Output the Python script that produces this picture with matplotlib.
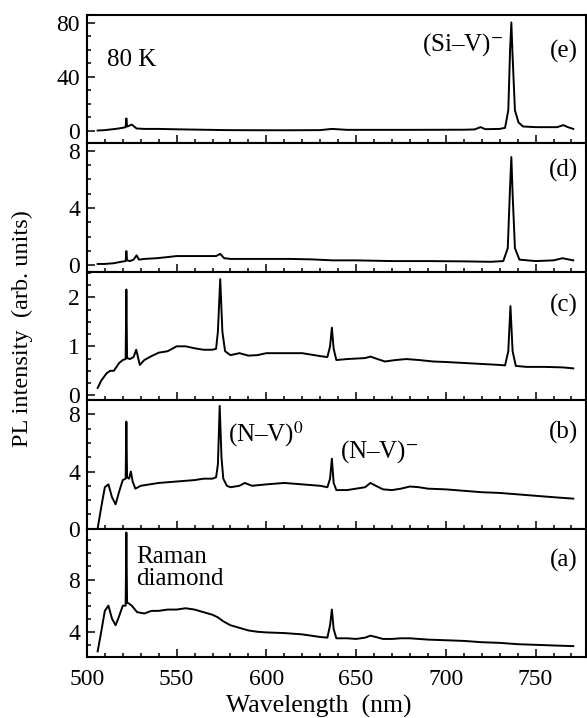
import matplotlib
matplotlib.use("Agg")
import matplotlib.pyplot as plt
from matplotlib.ticker import MultipleLocator, FixedLocator

plt.rcParams["font.family"] = ["Liberation Serif", "DejaVu Serif"]
plt.rcParams["mathtext.fontset"] = "stix"

# panel (a)
wl_a = [506, 508, 510, 512, 514, 516, 518, 520, 521.6, 522, 522.4, 523, 525, 528, 532, 536, 540, 545,
        550, 555, 560, 565, 570, 573, 574, 576, 580, 585, 590, 595, 600, 610, 620, 630, 634, 635.5,
        636.5, 637.5, 639, 645, 650, 655, 658, 661, 665, 670, 675, 680, 690, 700, 710, 720, 730, 740,
        750, 760, 771]
pl_a = [2.5, 4.0, 5.6, 6.0, 5.0, 4.5, 5.2, 6.0, 6.0, 11.6, 6.2, 6.2, 6.0, 5.5, 5.4, 5.6, 5.6, 5.7,
        5.7, 5.8, 5.7, 5.5, 5.3, 5.1, 5.0, 4.8, 4.5, 4.3, 4.1, 4.0, 3.95, 3.9, 3.8, 3.6, 3.55, 4.5,
        5.7, 4.2, 3.5, 3.5, 3.45, 3.55, 3.7, 3.6, 3.45, 3.45, 3.5, 3.5, 3.4, 3.35, 3.3, 3.2, 3.15, 3.05,
        3.0, 2.95, 2.9]

# panel (b)
wl_b = [506, 508, 510, 512, 514, 516, 518, 520, 521.6, 522, 522.4, 523.5, 524.5, 525.5, 527, 530, 535,
        540, 550, 560, 565, 570, 572, 573, 574, 575, 576, 578, 580, 585, 588, 592, 600, 610, 620, 630,
        634, 635.5, 636.5, 637.5, 639, 645, 650, 655, 658, 661, 665, 670, 675, 680, 685, 690, 700, 710,
        720, 730, 740, 750, 760, 771]
pl_b = [0.0, 1.5, 2.9, 3.1, 2.2, 1.7, 2.6, 3.4, 3.5, 7.5, 3.6, 3.5, 4.0, 3.3, 2.8, 3.0, 3.1,
        3.2, 3.3, 3.4, 3.5, 3.5, 3.6, 4.5, 8.6, 5.0, 3.5, 3.0, 2.9, 3.0, 3.2, 3.0, 3.1, 3.2, 3.1, 3.0,
        2.9, 3.5, 4.9, 3.2, 2.7, 2.7, 2.8, 2.9, 3.2, 3.0, 2.75, 2.7, 2.8, 2.95, 2.9, 2.8, 2.75, 2.65,
        2.55, 2.5, 2.4, 2.3, 2.2, 2.1]

# panel (c)
wl_c = [506, 508, 511, 513, 515, 518, 520, 521.6, 522, 522.4, 524, 526, 527.5, 529.5, 532, 536, 540,
        545, 550, 555, 560, 565, 570, 572, 573, 574.3, 575.5, 577, 580, 585, 590, 595, 600, 610, 620,
        630, 634, 635.5, 636.5, 637.5, 639, 645, 650, 655, 658, 662, 666, 672, 678, 685, 693, 700, 710,
        720, 730, 733, 734.8, 736, 737.2, 739, 745, 755, 765, 771]
pl_c = [0.15, 0.3, 0.45, 0.5, 0.5, 0.66, 0.72, 0.74, 2.16, 0.76, 0.74, 0.78, 0.93, 0.62, 0.72, 0.8, 0.87,
        0.9, 1.0, 1.0, 0.96, 0.93, 0.93, 0.95, 1.3, 2.37, 1.3, 0.9, 0.82, 0.86, 0.81, 0.82, 0.86, 0.86, 0.86,
        0.8, 0.78, 1.0, 1.38, 0.95, 0.72, 0.74, 0.75, 0.76, 0.79, 0.74, 0.69, 0.72, 0.74, 0.72, 0.69, 0.68, 0.66,
        0.64, 0.62, 0.61, 0.9, 1.82, 0.9, 0.6, 0.58, 0.58, 0.57, 0.55]

# panel (d)
wl_d = [506, 510, 515, 519, 521.6, 522, 522.4, 524, 526, 527.7, 529, 532, 539, 545, 550, 560, 567, 572,
        574.3, 576.5, 580, 590, 600, 613, 625, 637, 650, 670, 690, 710, 725, 732, 734.5, 735.8, 736.5,
        737.2, 738.5, 741, 750, 760, 765, 771]
pl_d = [0.1, 0.1, 0.15, 0.25, 0.3, 1.0, 0.35, 0.3, 0.4, 0.7, 0.4, 0.45, 0.5, 0.58, 0.65, 0.65, 0.65, 0.65,
        0.8, 0.5, 0.45, 0.45, 0.45, 0.45, 0.42, 0.35, 0.35, 0.3, 0.3, 0.28, 0.25, 0.3, 1.2, 5.5, 7.55,
        5.0, 1.2, 0.4, 0.3, 0.35, 0.5, 0.35]

# panel (e)
wl_e = [506, 510, 516, 520, 521.6, 522, 522.4, 523.5, 525, 527.7, 532, 540, 550, 578, 600, 613, 630,
        636.5, 645, 680, 710, 716, 719.3, 722, 730, 733, 734.8, 735.8, 736.5, 737.2, 738.5, 740.5, 743,
        750, 762, 765.5, 768, 771]
pl_e = [0.0, 0.3, 1.2, 2.0, 2.5, 9.0, 3.0, 3.5, 4.4, 1.5, 1.2, 1.2, 0.9, 0.3, 0.2, 0.2, 0.3,
        1.2, 0.5, 0.5, 0.6, 0.8, 2.5, 1.0, 1.2, 2.0, 15, 60, 80.2, 55, 15, 6, 3,
        2.5, 2.5, 4.0, 2.5, 1.2]

panels = [
    ("(e)", wl_e, pl_e, (-9.6, 85.7), [0, 40, 80], 10, 59),
    ("(d)", wl_d, pl_d, (-0.45, 8.5), [0, 4, 8], 1, 6.6),
    ("(c)", wl_c, pl_c, (-0.1, 2.52), [0, 1, 2], 0.25, 1.83),
    ("(b)", wl_b, pl_b, (0, 9.0), [0, 4, 8], 1, 6.76),
    ("(a)", wl_a, pl_a, (2.07, 11.9), [4, 8], 1, 9.43),
]

fig, axes = plt.subplots(5, 1, figsize=(5.87, 7.18), dpi=100, sharex=True)
fig.subplots_adjust(left=0.148, right=0.998, top=0.979, bottom=0.085, hspace=0)

for ax, (label, wl, pl, ylim, yticks, yminor, label_y) in zip(axes, panels):
    ax.plot(wl, pl, color="black", linewidth=1.4)
    ax.set_xlim(500, 778)
    ax.set_ylim(*ylim)
    ax.yaxis.set_major_locator(FixedLocator(yticks))
    ax.yaxis.set_minor_locator(MultipleLocator(yminor))
    ax.xaxis.set_major_locator(MultipleLocator(50))
    ax.xaxis.set_minor_locator(MultipleLocator(10))
    ax.tick_params(which="both", direction="in", top=False, right=False, width=1.1,
                   labelsize=17)
    ax.tick_params(axis="y", pad=5)
    ax.tick_params(axis="x", pad=9)
    ax.tick_params(which="major", length=6)
    ax.tick_params(which="minor", length=3)
    for spine in ax.spines.values():
        spine.set_linewidth(1.5)
    ax.text(765.5, label_y, label, ha="center", va="center", fontsize=18)

axes[0].text(511, 52.4, "80 K", ha="left", va="center", fontsize=18)
axes[0].text(732, 63.5, "(Si\u2013V)$^{-}$", ha="right", va="center", fontsize=18)
axes[3].text(578.5, 6.6, "(N\u2013V)$^{0}$", ha="left", va="center", fontsize=18)
axes[3].text(641, 5.4, "(N\u2013V)$^{-}$", ha="left", va="center", fontsize=18)
axes[4].text(527.5, 8.9, "Raman\ndiamond", ha="left", va="center", fontsize=18, linespacing=1.0)

fig.text(0.038, 0.543, "PL intensity  (arb. units)", rotation=90, ha="center", va="center", fontsize=17.5)
fig.text(0.543, 0.0167, "Wavelength  (nm)", ha="center", va="center", fontsize=18.5)

fig.savefig("out.png", dpi=100)
